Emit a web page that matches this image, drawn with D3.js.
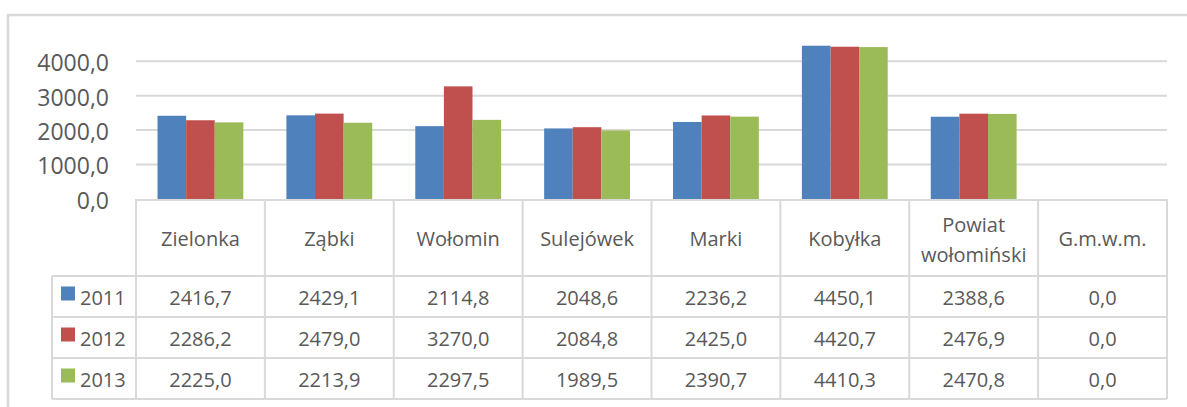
<!DOCTYPE html>
<html>
<head>
<meta charset="utf-8">
<script src="https://cdn.jsdelivr.net/npm/d3@7"></script>
<style>
  body { margin: 0; background: #fff; }
  text { font-family: "Open Sans", sans-serif; fill: #595959; }
</style>
</head>
<body>
<div id="chart"></div>
<script>
// chart data
var categories = ["Zielonka", "Ząbki", "Wołomin", "Sulejówek", "Marki", "Kobyłka", "Powiat wołomiński", "G.m.w.m."];
var years = ["2011", "2012", "2013"];
var values2011 = [2416.7, 2429.1, 2114.8, 2048.6, 2236.2, 4450.1, 2388.6, 0.0];
var values2012 = [2286.2, 2479.0, 3270.0, 2084.8, 2425.0, 4420.7, 2476.9, 0.0];
var values2013 = [2225.0, 2213.9, 2297.5, 1989.5, 2390.7, 4410.3, 2470.8, 0.0];
var yTicks = [0, 1000, 2000, 3000, 4000];

var series = [values2011, values2012, values2013];
var colors = ["#4f81bd", "#c0504d", "#9bbb59"];
var gridColor = "#d9d9d9";

var svgWidth = 1187;
var svgHeight = 407;

var plotLeft = 136, plotRight = 1167;
var plotTop = 44, plotBottom = 199;
var headerBottom = 276;
var rowHeight = 41;
var tableLeft = 52;

var pl = d3.formatLocale({ decimal: ",", thousands: "", grouping: [3], currency: ["", ""] });
var fmt = pl.format(".1f");

var svg = d3.select("#chart").append("svg")
  .attr("width", svgWidth)
  .attr("height", svgHeight);

// chart frame
svg.append("path")
  .attr("d", "M8," + svgHeight + " V15 H" + svgWidth)
  .attr("fill", "none")
  .attr("stroke", gridColor)
  .attr("stroke-width", 2.5);

var x0 = d3.scaleBand().domain(categories).range([plotLeft, plotRight]);
var bw = x0.bandwidth();
var x1 = d3.scaleBand().domain(years).range([bw * 0.167, bw * 0.833]);
var y = d3.scaleLinear().domain([0, 4500]).range([plotBottom, plotTop]);

// gridlines
svg.append("g").selectAll("line")
  .data(yTicks.filter(function (d) { return d > 0; }))
  .join("line")
  .attr("x1", plotLeft).attr("x2", plotRight)
  .attr("y1", function (d) { return y(d); })
  .attr("y2", function (d) { return y(d); })
  .attr("stroke", gridColor)
  .attr("stroke-width", 2);

// y axis labels
var yAxis = d3.axisLeft(y).tickValues(yTicks).tickSize(0).tickPadding(0)
  .tickFormat(function (d) { return fmt(d); });
var yg = svg.append("g").attr("transform", "translate(109,2)").call(yAxis);
yg.select(".domain").remove();
yg.selectAll("text")
  .style("font-size", "23px")
  .style("font-family", "'Open Sans', sans-serif")
  .attr("fill", "#595959");

// bars
var groups = svg.append("g").selectAll("g")
  .data(categories)
  .join("g")
  .attr("transform", function (d) { return "translate(" + x0(d) + ",0)"; });

groups.selectAll("rect")
  .data(function (d, i) { return series.map(function (s, j) { return { year: years[j], value: s[i], k: j }; }); })
  .join("rect")
  .attr("x", function (d) { return x1(d.year); })
  .attr("width", x1.bandwidth())
  .attr("y", function (d) { return y(d.value); })
  .attr("height", function (d) { return y(0) - y(d.value); })
  .attr("fill", function (d) { return colors[d.k]; });

// data table
var tableBottom = headerBottom + rowHeight * years.length;
var table = svg.append("g")
  .attr("stroke", gridColor)
  .attr("stroke-width", 2);

// horizontal lines
table.append("line").attr("x1", plotLeft).attr("x2", plotRight).attr("y1", plotBottom + 1).attr("y2", plotBottom + 1);
d3.range(years.length + 1).forEach(function (i) {
  var yy = headerBottom + i * rowHeight;
  table.append("line").attr("x1", tableLeft).attr("x2", plotRight).attr("y1", yy).attr("y2", yy);
});
// vertical lines
table.append("line").attr("x1", tableLeft).attr("x2", tableLeft).attr("y1", headerBottom).attr("y2", tableBottom);
categories.forEach(function (c) {
  table.append("line").attr("x1", x0(c)).attr("x2", x0(c)).attr("y1", plotBottom).attr("y2", tableBottom);
});
table.append("line").attr("x1", plotRight).attr("x2", plotRight).attr("y1", plotBottom).attr("y2", tableBottom);

// category labels
var catText = svg.append("g").selectAll("text")
  .data(categories)
  .join("text")
  .attr("text-anchor", "middle")
  .style("font-size", "20px")
  .attr("x", function (d) { return x0(d) + bw / 2; })
  .attr("y", 246);

catText.each(function (d) {
  var words = d.split(" ");
  var t = d3.select(this);
  if (words.length > 1) {
    t.attr("y", 232);
    words.forEach(function (w, i) {
      t.append("tspan").attr("x", x0(d) + bw / 2).attr("dy", i ? 30 : 0).text(w);
    });
  } else {
    t.text(d);
  }
});

// row headers (legend keys) and values
years.forEach(function (yr, j) {
  var cy = headerBottom + j * rowHeight + rowHeight / 2;
  svg.append("rect")
    .attr("x", 61).attr("y", cy - 10)
    .attr("width", 14).attr("height", 14)
    .attr("fill", colors[j]);
  svg.append("text")
    .attr("x", 80).attr("y", cy + 8)
    .style("font-size", "20px")
    .text(yr);

  svg.append("g").selectAll("text")
    .data(series[j])
    .join("text")
    .attr("text-anchor", "middle")
    .style("font-size", "20px")
    .attr("x", function (d, i) { return x0(categories[i]) + bw / 2; })
    .attr("y", cy + 8)
    .text(function (d) { return fmt(d); });
});
</script>
</body>
</html>
